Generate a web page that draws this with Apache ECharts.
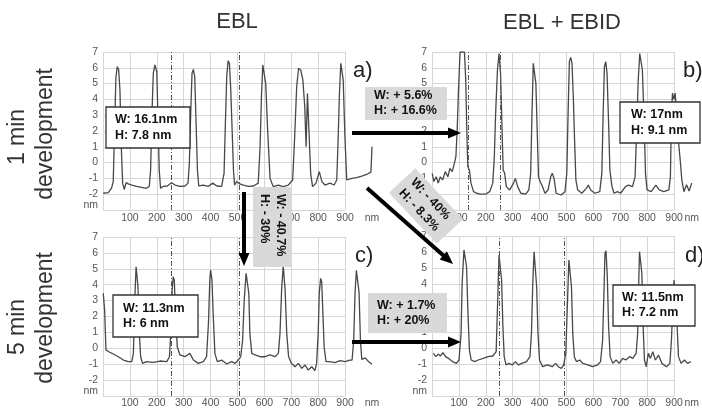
<!DOCTYPE html>
<html><head><meta charset="utf-8">
<script src="https://cdn.jsdelivr.net/npm/echarts@6/dist/echarts.min.js"></script>
<style>html,body{margin:0;padding:0;background:#fff}#c{width:702px;height:411px}</style>
</head><body><div id="c"></div><script>
// ---- data (nm along profile, height in nm) ----
const aPos = [1,20,32,38,43,48,53,58,63,68,73,79,86,94,107,125,144,162,172,177,182,187,193,200,204,209,214,224,239,255,268,286,305,316,321,326,331,336,341,346,351,356,373,392,408,423,441,450,455,460,465,470,475,480,485,489,497,503,509,522,540,559,577,584,589,594,598,605,612,621,633,652,670,689,705,712,720,727,735,743,750,755,760,765,772,779,792,804,814,825,844,859,869,874,879,884,889,893,899,906,912,925,943,962,980,996,1000];
const aHeight = [-1.94,-1.9,-1.6,-1.2,2.1,5.4,6.07,5.9,4.6,1.0,-1.3,-1.7,-1.27,-1.35,-1.42,-1.5,-1.57,-1.63,-1.5,-0.47,3.1,5.65,6.18,5.75,3.1,-0.47,-1.63,-1.5,-1.48,-1.27,-1.42,-1.5,-1.48,-1.3,-0.05,3.1,5.65,5.9,5.44,2.5,-0.47,-1.48,-1.42,-1.5,-1.3,-1.48,-1.5,-0.68,2.5,5.44,6.45,6.28,4.6,2.06,-0.47,-1.42,-1.2,-1.1,-1.35,-1.42,-1.5,-1.48,-1.3,1.0,4.17,6.18,6.24,5.0,2.06,-1.0,-1.52,-1.42,-1.52,-1.42,-1.1,1.43,4.8,5.97,5.86,5.23,3.54,1.0,4.38,2.27,-0.68,-1.52,-1.3,-0.57,-1.2,-1.42,-1.3,-1.42,-1.1,1.43,4.38,6.28,6.39,5.23,1.8,-1.1,-1.2,-1.0,-0.95,-0.85,-0.75,-0.6,1.0];

const bPos = [1,7,16,24,32,41,51,61,69,78,86,92,97,102,108,125,130,134,138,144,150,160,172,187,206,222,234,240,245,252,258,264,269,274,280,286,299,314,321,330,342,361,373,380,385,390,395,400,405,410,416,423,435,447,457,463,470,478,497,512,519,524,529,534,539,544,549,554,561,577,594,602,611,627,646,654,659,664,669,674,680,685,693,701,714,726,745,757,772,782,788,794,800,805,810,817,822,828,844,862,875,893,912,918,922,926,931,936,941,948,955,962,970,980,990,1000];
const bHeight = [-0.68,-1.2,-0.9,-1.3,-0.9,-1.1,-0.57,-0.9,-0.36,-0.57,-0.05,0.38,2.06,4.6,7,7,5.2,2.06,-0.26,-0.47,-1.3,-1.84,-1.94,-2.0,-2.0,-1.84,-1.3,0.38,3.1,5.86,6.9,5.65,2.5,-0.47,-0.68,-1.52,-1.73,-1.3,-1.0,-1.52,-1.94,-1.99,-1.73,-0.68,3.1,6.28,6.39,5.0,2.06,-0.9,-1.2,-1.42,-1.94,-1.73,-0.9,-0.68,-1.0,-1.94,-2.05,-1.84,-0.68,3.1,6.39,6.66,6.28,4.17,1.43,-1.1,-1.73,-1.94,-1.63,-1.42,-1.73,-1.94,-1.84,-0.68,3.1,6.07,6.39,5.65,2.5,-0.47,-1.52,-1.94,-1.84,-1.94,-1.52,-1.42,-1.52,-0.9,2.06,5.2,6.9,7,5.86,2.5,-0.68,-1.73,-1.84,-1.42,-1.73,-1.84,-1.73,-0.9,3.1,4.4,4.0,4.4,3.5,1.5,0.3,-1.1,-1.84,-1.4,-1.8,-1.3];

const cPos = [1,6,11,20,38,57,76,94,107,113,118,123,126,130,135,140,147,162,187,212,237,247,252,257,261,265,270,276,286,305,323,336,354,373,385,392,397,400,405,410,416,425,441,460,478,491,503,512,519,525,532,537,542,546,553,565,584,602,621,639,652,658,664,670,677,683,690,701,714,726,739,751,763,776,788,794,800,804,809,813,817,822,829,844,862,881,900,918,926,932,937,942,948,952,957,962,975,988,1000];
const cHeight = [3.46,2.4,-0.1,-0.2,-0.36,-0.53,-0.74,-0.84,-0.84,-0.32,3.04,5.13,5.24,3.88,0.94,-0.53,-0.95,-0.84,-0.88,-0.8,-0.84,-0.53,0.94,3.67,4.5,4.3,1.99,0.1,-0.42,-0.53,-0.32,-0.74,-0.95,-0.84,-0.53,1.57,4.3,4.92,4.3,1.99,-0.32,-0.84,-0.74,-0.99,-0.84,-0.95,-0.74,-0.53,0.52,3.04,4.71,4.82,3.46,0.94,-0.32,-0.42,-0.53,-0.53,-0.42,-0.53,-0.32,0.94,3.67,5.2,3.67,0.94,-0.53,-0.95,-1.16,-0.95,-1.26,-1.05,-1.37,-1.16,-1.4,-0.95,0.94,3.46,4.4,4.19,2.41,0.1,-0.84,-0.84,-0.9,-0.78,-0.84,-0.74,-0.74,0.5,3.5,4.9,5.0,3.5,0.5,-0.7,-0.6,-0.85,-1.0];

const dPos = [5,15,24,32,42,52,64,79,94,104,112,116,123,128,133,139,144,151,164,178,197,216,234,247,253,258,263,268,273,278,285,296,309,321,333,346,364,377,383,388,393,398,403,408,414,426,445,463,476,486,498,507,515,522,527,532,537,542,548,556,569,581,600,618,637,649,657,662,666,670,675,680,686,696,709,721,734,746,761,773,786,792,796,799,803,808,813,818,825,833,841,850,860,872,885,903,916,922,928,932,938,944,949,959,972,984,996];
const dHeight = [-0.33,-0.54,-0.38,-0.5,-0.29,-0.54,-0.65,-0.85,-0.96,-0.75,0.92,4.04,6.13,6.17,5.08,1.96,-0.13,-0.75,-0.85,-0.75,-0.65,-0.54,-0.5,-0.23,3.0,5.81,5.92,4.25,1.33,-0.54,-1.06,-0.96,-1.06,-0.85,-1.06,-0.96,-0.85,-0.54,0.92,4.04,6.02,5.92,3.83,0.92,-0.75,-1.17,-1.06,-1.17,-0.96,-1.17,-1.27,-1.06,-0.33,3.0,5.5,5.54,3.83,0.92,-0.54,-0.85,-0.75,-0.96,-1.06,-1.17,-1.06,-0.85,0.5,3.42,5.92,6.08,4.46,1.33,-0.54,-0.96,-0.75,-0.96,-0.65,-0.75,-0.54,-0.65,-0.33,0.92,4.04,6.02,6.13,4.67,1.33,-0.75,-1.17,-0.33,-0.65,-0.23,-0.75,-0.44,-0.96,-1.17,-0.96,0.5,3.0,4.25,4.25,1.33,-0.54,-0.96,-0.75,-0.96,-0.85];

const aMarks = [253, 506];
const bMarks = [138, 264];
const cMarks = [255, 507];
const dMarks = [260, 509];

const xTickMax = 900, xDataMax = 1000, yMin = -3, yMax = 7;

// ---- layout ----
const FONT = "'Liberation Sans', Arial, sans-serif";
const panels = [
  {pos: aPos, h: aHeight, marks: aMarks, left: 103, top: 52, height: 158, xm: 3},
  {pos: bPos, h: bHeight, marks: bMarks, left: 432, top: 52, height: 158, xm: 3},
  {pos: cPos, h: cHeight, marks: cMarks, left: 103, top: 237, height: 159, xm: 2},
  {pos: dPos, h: dHeight, marks: dMarks, left: 432, top: 236, height: 160, xm: 2}
];
const pxPerNm = 0.269;

const grid = [], xAxis = [], yAxis = [], series = [];
panels.forEach((p, i) => {
  const gi = i * 2, gd = i * 2 + 1;
  grid.push({left: p.left, top: p.top, width: xTickMax * pxPerNm, height: p.height});
  grid.push({left: p.left, top: p.top, width: xDataMax * pxPerNm, height: p.height});
  xAxis.push({gridIndex: gi, type: 'value', min: 0, max: xTickMax, interval: 100,
    axisLine: {show: false}, axisTick: {show: false},
    splitLine: {show: true, lineStyle: {color: '#d6d6d6', width: 1}},
    axisLabel: {formatter: v => v === 0 ? '' : String(v), color: '#555', fontSize: 10.5, fontFamily: FONT, margin: p.xm, showMinLabel: true, showMaxLabel: true}});
  xAxis.push({gridIndex: gd, type: 'value', min: 0, max: xDataMax, interval: 100,
    axisLine: {show: false}, axisTick: {show: false}, splitLine: {show: false},
    axisLabel: {formatter: v => v === xDataMax ? 'nm' : '', color: '#555', fontSize: 10.5, fontFamily: FONT, margin: p.xm, showMaxLabel: true, interval: 0}});
  yAxis.push({gridIndex: gi, type: 'value', min: yMin, max: yMax, interval: 1,
    axisLine: {show: false}, axisTick: {show: false},
    splitLine: {show: true, lineStyle: {color: '#d6d6d6', width: 1}},
    axisLabel: {formatter: v => v === yMin ? '{n|nm}' : String(v), color: '#555', fontSize: 10.5, fontFamily: FONT, margin: 5,
      rich: {n: {color: '#555', fontSize: 10.5, fontFamily: FONT, padding: [0, 0, 9, 0]}}}});
  yAxis.push({gridIndex: gd, type: 'value', min: yMin, max: yMax, show: false});
  series.push({type: 'line', xAxisIndex: gd, yAxisIndex: gd, symbol: 'none', silent: true,
    data: p.pos.map((x, k) => [x, p.h[k]]),
    lineStyle: {color: '#484848', width: 1.3},
    markLine: {silent: true, symbol: ['none', 'none'], label: {show: false},
      lineStyle: {type: [5, 2, 1, 2], color: '#555', width: 1},
      data: p.marks.map(v => ({xAxis: v}))}});
});

// ---- annotations ----
const Z = 100;
function txt(x, y, text, o) {
  o = o || {};
  return {type: 'text', z: Z, rotation: o.rot || 0, x: x, y: y,
    style: {text: text, x: 0, y: 0, fill: o.fill || '#222',
      font: (o.weight || 'normal') + ' ' + (o.size || 13) + 'px ' + FONT,
      textAlign: o.align || 'center', align: o.align || 'center',
      textVerticalAlign: o.va || 'middle', verticalAlign: o.va || 'middle',
      lineHeight: o.lh || 16}};
}
function box(x, y, w, h, lines, o) {
  o = o || {};
  return [{type: 'rect', z: Z, shape: {x: x, y: y, width: w, height: h},
      style: {fill: o.fill || '#fff', stroke: o.stroke || null, lineWidth: o.stroke ? 1.3 : 0}},
    txt(x + (o.pad || 9), y + h / 2, lines.join('\n'), {align: 'left', weight: 'bold', size: 12.5, fill: '#111', lh: o.lh || 16})];
}
function rotBox(cx, cy, w, h, rot, lines) {
  return {type: 'group', x: cx, y: cy, rotation: rot, z: Z, children: [
    {type: 'rect', z: Z, shape: {x: -w / 2, y: -h / 2, width: w, height: h}, style: {fill: '#d9d9d9'}},
    txt(-w / 2 + 7, 0, lines.join('\n'), {align: 'left', weight: 'bold', size: 12.5, fill: '#111', lh: 16})]};
}
function arrow(x1, y1, x2, y2) {
  const dx = x2 - x1, dy = y2 - y1, L = Math.hypot(dx, dy), ux = dx / L, uy = dy / L;
  const hl = 13, hw = 5.5, bx = x2 - ux * hl, by = y2 - uy * hl;
  return [{type: 'line', z: Z, shape: {x1: x1, y1: y1, x2: bx + ux, y2: by + uy}, style: {stroke: '#000', lineWidth: 4}},
    {type: 'polygon', z: Z, shape: {points: [[x2, y2], [bx - uy * hw, by + ux * hw], [bx + uy * hw, by - ux * hw]]}, style: {fill: '#000'}}];
}

const elements = [].concat(
  txt(237, 22, 'EBL', {size: 22, fill: '#333'}),
  txt(562, 23, 'EBL + EBID', {size: 22, fill: '#333'}),
  txt(18, 137, '1 min', {size: 23, fill: '#333', rot: Math.PI / 2}),
  txt(46, 134, 'development', {size: 23, fill: '#333', rot: Math.PI / 2}),
  txt(18, 327, '5 min', {size: 23, fill: '#333', rot: Math.PI / 2}),
  txt(46, 318, 'development', {size: 23, fill: '#333', rot: Math.PI / 2}),
  txt(353, 71, 'a)', {size: 22, align: 'left'}),
  txt(683, 71, 'b)', {size: 22, align: 'left'}),
  txt(355, 256, 'c)', {size: 22, align: 'left'}),
  txt(685, 256, 'd)', {size: 22, align: 'left'}),
  box(106, 107, 84, 41, ['W: 16.1nm', 'H: 7.8 nm'], {stroke: '#333'}),
  box(620, 102, 80, 41, ['W: 17nm', 'H: 9.1 nm'], {stroke: '#333', pad: 11}),
  box(113, 295, 85, 42, ['W: 11.3nm', 'H: 6 nm'], {stroke: '#333', pad: 10, lh: 15}),
  box(613, 285, 82, 41, ['W: 11.5nm', 'H: 7.2 nm'], {stroke: '#333', pad: 9, lh: 15}),
  box(365, 87, 82, 33, ['W: + 5.6%', 'H: + 16.6%'], {fill: '#d9d9d9', pad: 9, lh: 15}),
  box(368, 293, 79, 40, ['W: + 1.7%', 'H: + 20%'], {fill: '#d9d9d9', pad: 9, lh: 15}),
  rotBox(272.5, 227, 80, 39, -Math.PI / 2, ['W: - 40.7%', 'H: - 30%']),
  rotBox(426, 206, 70, 36, -47 * Math.PI / 180, ['W: - 40%', 'H: - 8.3%']),
  arrow(352, 133, 461, 133),
  arrow(352, 342, 461, 342),
  arrow(244, 192, 244, 266),
  arrow(367, 188, 453, 264)
);

const chart = echarts.init(document.getElementById('c'), null, {renderer: 'canvas'});
chart.setOption({
  animation: false,
  backgroundColor: '#fff',
  grid: grid, xAxis: xAxis, yAxis: yAxis, series: series,
  graphic: {elements: elements}
});
</script></body></html>
